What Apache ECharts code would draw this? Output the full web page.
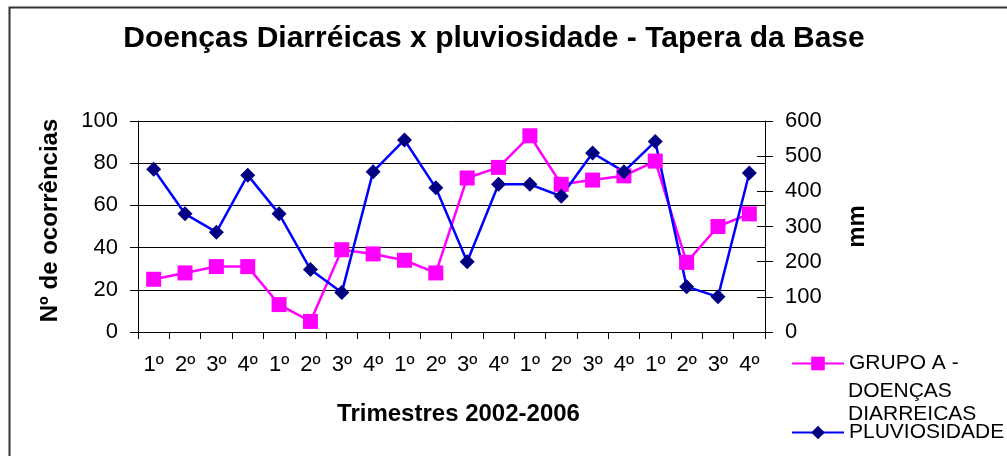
<!DOCTYPE html>
<html>
<head>
<meta charset="utf-8">
<script src="https://cdn.jsdelivr.net/npm/echarts@6/dist/echarts.min.js"></script>
<style>
html,body{margin:0;padding:0;background:#fff;}
#chart{width:1007px;height:456px;}
</style>
</head>
<body>
<div id="chart"></div>
<script>
// ---- data ----
const categories = ['1º','2º','3º','4º','1º','2º','3º','4º','1º','2º','3º','4º','1º','2º','3º','4º','1º','2º','3º','4º'];
const doencas = [25, 28, 31, 31, 13, 5, 39, 37, 34, 28, 73, 78, 93, 70, 72, 74, 81, 33, 50, 56];
const pluviosidade = [463, 336, 284, 446, 336, 178, 112, 456, 546, 410, 200, 420, 420, 386, 509, 456, 542, 129, 100, 452];
const leftTicks = {min: 0, max: 100, interval: 20};
const rightTicks = {min: 0, max: 600, interval: 100};
const seriesNames = ['GRUPO A - DOENÇAS DIARREICAS', 'PLUVIOSIDADE'];

const FONT = 'Liberation Sans, Arial, sans-serif';
const chart = echarts.init(document.getElementById('chart'), null, {renderer: 'canvas'});

chart.setOption({
  animation: false,
  backgroundColor: '#ffffff',
  title: {
    text: 'Doenças Diarréicas x pluviosidade - Tapera da Base',
    left: 489, top: 19, textAlign: 'center',
    textStyle: {fontFamily: FONT, fontSize: 30, fontWeight: 'bold', color: '#000'}
  },
  grid: {left: 138, right: 242, top: 121, bottom: 124, containLabel: false},
  legend: [
    {
      data: [seriesNames[0]], left: 786, top: 348, itemWidth: 52, itemHeight: 17,
      formatter: () => 'GRUPO A -',
      textStyle: {fontFamily: FONT, fontSize: 21, color: '#000'}
    },
    {
      data: [seriesNames[1]], left: 786, top: 417, itemWidth: 52, itemHeight: 17,
      textStyle: {fontFamily: FONT, fontSize: 21, color: '#000'}
    }
  ],
  xAxis: {
    type: 'category', data: categories, boundaryGap: true,
    axisLine: {lineStyle: {color: '#000', width: 1}},
    axisTick: {show: true, length: 7, interval: 0, lineStyle: {color: '#000'}},
    axisLabel: {interval: 0, margin: 22, fontFamily: FONT, fontSize: 22, color: '#000'},
    name: 'Trimestres 2002-2006', nameLocation: 'middle', nameGap: 70,
    nameTextStyle: {fontFamily: FONT, fontSize: 24, fontWeight: 'bold', color: '#000', padding: [0, 0, 0, 14]}
  },
  yAxis: [
    {
      type: 'value', position: 'left', min: leftTicks.min, max: leftTicks.max, interval: leftTicks.interval,
      axisLine: {show: true, lineStyle: {color: '#000'}},
      axisTick: {show: true, length: 8, lineStyle: {color: '#000'}},
      axisLabel: {margin: 20, fontFamily: FONT, fontSize: 22, color: '#000'},
      splitLine: {show: true, lineStyle: {color: '#000', width: 1}},
      name: 'Nº de ocorrências', nameLocation: 'middle', nameRotate: 90, nameGap: 76,
      nameTextStyle: {fontFamily: FONT, fontSize: 24, fontWeight: 'bold', color: '#000', padding: [0, 0, 0, 12]}
    },
    {
      type: 'value', position: 'right', min: rightTicks.min, max: rightTicks.max, interval: rightTicks.interval,
      axisLine: {show: true, lineStyle: {color: '#000'}},
      axisTick: {show: true, length: 8, lineStyle: {color: '#000'}},
      axisLabel: {margin: 20, fontFamily: FONT, fontSize: 22, color: '#000'},
      splitLine: {show: false},
      name: 'mm', nameLocation: 'middle', nameRotate: 90, nameGap: 80,
      nameTextStyle: {fontFamily: FONT, fontSize: 24, fontWeight: 'bold', color: '#000'}
    },
    {
      type: 'value', position: 'right', min: rightTicks.min, max: rightTicks.max, interval: rightTicks.interval,
      axisLine: {show: false},
      axisTick: {show: true, inside: true, length: 8, lineStyle: {color: '#000'}},
      axisLabel: {show: false},
      splitLine: {show: false}
    }
  ],
  series: [
    {
      name: seriesNames[0], type: 'line', yAxisIndex: 0, data: doencas,
      symbol: 'rect', symbolSize: 15,
      lineStyle: {color: '#FF00FF', width: 2.5},
      itemStyle: {color: '#FF00FF'}
    },
    {
      name: seriesNames[1], type: 'line', yAxisIndex: 1, data: pluviosidade,
      symbol: 'diamond', symbolSize: 15,
      lineStyle: {color: '#0000FF', width: 2.5},
      itemStyle: {color: '#000080'}
    }
  ],
  graphic: [
    {type: 'polyline', shape: {points: [[9.5, 456], [9.5, 7.5], [1007, 7.5]]}, style: {stroke: '#333', lineWidth: 2, fill: null}, silent: true},
    {type: 'text', left: 848, top: 381, style: {text: 'DOENÇAS', font: '21px ' + FONT, fill: '#000'}},
    {type: 'text', left: 848, top: 404, style: {text: 'DIARREICAS', font: '21px ' + FONT, fill: '#000'}}
  ]
});
</script>
</body>
</html>
